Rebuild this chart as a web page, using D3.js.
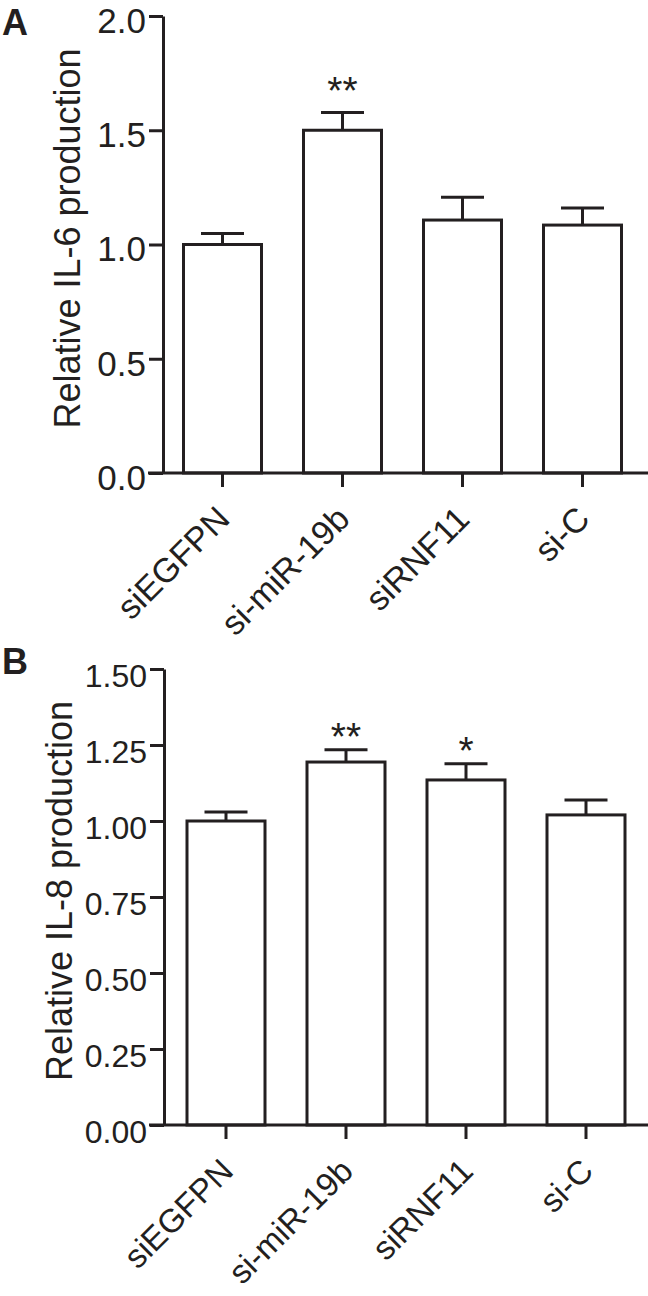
<!DOCTYPE html>
<html>
<head>
<meta charset="utf-8">
<script src="https://cdn.jsdelivr.net/npm/d3@7"></script>
<style>
  body { margin: 0; background: #fff; }
  svg { display: block; }
  text { font-family: "Liberation Sans", Arial, Helvetica, sans-serif; fill: #231f20; }
</style>
</head>
<body>
<div id="chart"></div>
<script>
// categories and values
var groups = ["siEGFPN", "si-miR-19b", "siRNF11", "si-C"];

var il6Mean = [1.00, 1.50, 1.107, 1.085];
var il6Err  = [0.048, 0.078, 0.10, 0.075];
var il6Sig  = ["", "**", "", ""];
var il6Ticks = [0, 0.5, 1.0, 1.5, 2.0];

var il8Mean = [1.00, 1.194, 1.135, 1.02];
var il8Err  = [0.03, 0.04, 0.053, 0.049];
var il8Sig  = ["", "**", "*", ""];
var il8Ticks = [0, 0.25, 0.5, 0.75, 1.0, 1.25, 1.5];

var W = 648, H = 1296;
var ink = "#231f20";

var svg = d3.select("#chart")
    .append("svg")
    .attr("width", W)
    .attr("height", H);

// panel A
draw_panel({
    letter: "A", letterY: 35,
    title: "Relative IL-6 production", titleX: 80,
    top: 16, bottom: 473, axisX: 163, left: 162.5, right: 642.5,
    ticks: il6Ticks, fmt: ".1f", tickFont: 35, tickDy: "0.47em", labelFont: 34,
    mean: il6Mean, err: il6Err, sig: il6Sig, starGap: 30
});

// panel B
draw_panel({
    letter: "B", letterY: 674,
    title: "Relative IL-8 production", titleX: 72,
    top: 669, bottom: 1125, axisX: 164, left: 166, right: 646,
    ticks: il8Ticks, fmt: ".2f", tickFont: 32, tickDy: "0.55em", labelFont: 33,
    mean: il8Mean, err: il8Err, sig: il8Sig, starGap: 22
});

function draw_panel(p) {
    var g = svg.append("g");
    var yMax = d3.max(p.ticks);

    var x = d3.scaleBand()
        .domain(groups)
        .range([p.left, p.right])
        .paddingInner(0.35)
        .paddingOuter(0.175);

    var y = d3.scaleLinear()
        .domain([0, yMax])
        .range([p.bottom, p.top]);

    var data = groups.map(function(d, i) {
        return { name: d, mean: p.mean[i], err: p.err[i], sig: p.sig[i] };
    });

    // bars
    g.selectAll("rect.bar")
        .data(data)
        .enter()
        .append("rect")
        .attr("class", "bar")
        .attr("x", function(d) { return x(d.name); })
        .attr("y", function(d) { return y(d.mean); })
        .attr("width", x.bandwidth())
        .attr("height", function(d) { return y(0) - y(d.mean); })
        .attr("fill", "#fff")
        .attr("stroke", ink)
        .attr("stroke-width", 3);

    // upper error bars
    var cx = function(d) { return x(d.name) + x.bandwidth() / 2; };
    g.selectAll("line.err")
        .data(data)
        .enter()
        .append("line")
        .attr("class", "err")
        .attr("x1", cx)
        .attr("x2", cx)
        .attr("y1", function(d) { return y(d.mean); })
        .attr("y2", function(d) { return y(d.mean + d.err); })
        .attr("stroke", ink)
        .attr("stroke-width", 3);
    g.selectAll("line.cap")
        .data(data)
        .enter()
        .append("line")
        .attr("class", "cap")
        .attr("x1", function(d) { return cx(d) - 21.5; })
        .attr("x2", function(d) { return cx(d) + 21.5; })
        .attr("y1", function(d) { return y(d.mean + d.err); })
        .attr("y2", function(d) { return y(d.mean + d.err); })
        .attr("stroke", ink)
        .attr("stroke-width", 3);

    // significance stars
    g.selectAll("text.sig")
        .data(data)
        .enter()
        .append("text")
        .attr("class", "sig")
        .attr("x", cx)
        .attr("y", function(d) { return y(d.mean + d.err) - p.starGap + 22; })
        .attr("text-anchor", "middle")
        .attr("font-size", "39px")
        .text(function(d) { return d.sig; });

    // y axis
    var yAxis = g.append("g")
        .attr("transform", "translate(" + p.axisX + ",0)")
        .call(d3.axisLeft(y)
            .tickValues(p.ticks)
            .tickSize(14)
            .tickSizeOuter(0)
            .tickPadding(3)
            .tickFormat(d3.format(p.fmt)));
    yAxis.selectAll("path, line").attr("stroke", ink).attr("stroke-width", 3);
    yAxis.selectAll("text")
        .attr("font-size", p.tickFont + "px")
        .attr("fill", ink)
        .attr("dy", p.tickDy);

    // x axis
    var xAxis = g.append("g")
        .attr("transform", "translate(0," + p.bottom + ")")
        .call(d3.axisBottom(x).tickSize(14).tickSizeOuter(0));
    xAxis.select(".domain").remove();
    xAxis.selectAll("line").attr("stroke", ink).attr("stroke-width", 3);
    xAxis.selectAll("text")
        .attr("font-size", p.labelFont + "px")
        .attr("fill", ink)
        .attr("text-anchor", "end")
        .attr("y", 0)
        .attr("dy", 0)
        .attr("transform", "translate(9,48) rotate(-45)");
    g.append("line")
        .attr("x1", p.axisX - 15)
        .attr("x2", W)
        .attr("y1", p.bottom)
        .attr("y2", p.bottom)
        .attr("stroke", ink)
        .attr("stroke-width", 3);

    // axis title
    g.append("text")
        .attr("transform", "translate(" + p.titleX + "," + ((p.top + p.bottom) / 2 - 6) + ") rotate(-90)")
        .attr("text-anchor", "middle")
        .attr("font-size", "36px")
        .text(p.title);

    // panel letter
    g.append("text")
        .attr("x", 2)
        .attr("y", p.letterY)
        .attr("font-size", "36px")
        .attr("font-weight", "bold")
        .text(p.letter);
}
</script>
</body>
</html>
